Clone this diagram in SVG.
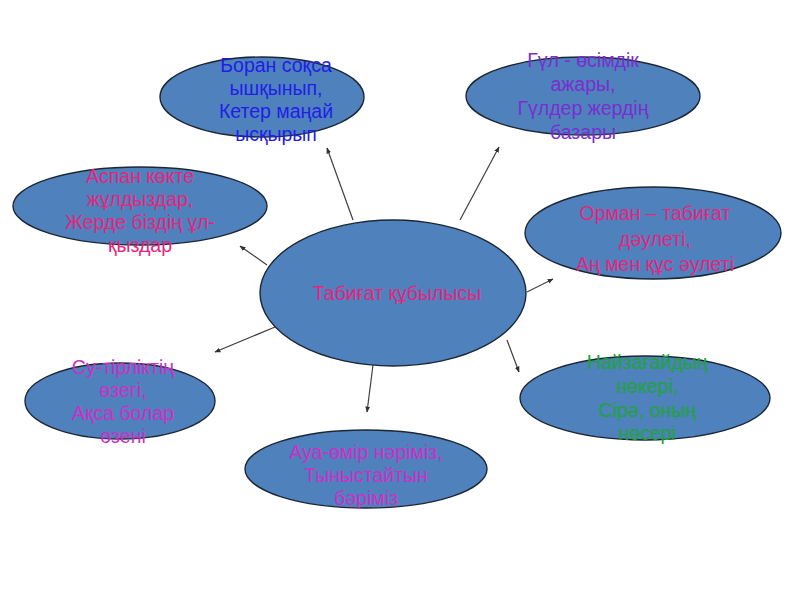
<svg xmlns="http://www.w3.org/2000/svg" width="800" height="600" viewBox="0 0 800 600">
<style>
.n{fill:#4f81bd;stroke:#1c2733;stroke-width:1.4}
text{font-family:"Liberation Sans",Arial,sans-serif;font-size:19.5px;text-anchor:middle;dominant-baseline:central}
.blue{fill:#1f1fe6}.purple{fill:#7a2ed0}.pink{fill:#e6257e}.mag{fill:#cc2fc6}.green{fill:#1fa33a}
.c{stroke:#404040;stroke-width:1.2;fill:none;marker-end:url(#a)}
</style>
<defs>
<marker id="a" viewBox="0 0 10 10" refX="9" refY="5" markerWidth="6" markerHeight="6" orient="auto" markerUnits="userSpaceOnUse">
<path d="M0,1 L10,5 L0,9 z" fill="#303030"/>
</marker>
</defs>
<rect width="800" height="600" fill="#fff"/>
<g id="connectors">
<line class="c" x1="353" y1="220" x2="327" y2="148"/>
<line class="c" x1="460" y1="220" x2="499" y2="147"/>
<line class="c" x1="267" y1="265" x2="240" y2="246"/>
<line class="c" x1="527" y1="292" x2="553" y2="279"/>
<line class="c" x1="275" y1="327" x2="215" y2="352"/>
<line class="c" x1="373" y1="365" x2="367" y2="412"/>
<line class="c" x1="507" y1="340" x2="519" y2="372"/>
</g>
<g id="center">
<ellipse class="n" cx="393" cy="293" rx="133" ry="73"/>
<text class="pink" x="397" y="293">Табиғат құбылысы</text>
</g>
<g id="boran">
<ellipse class="n" cx="262" cy="97" rx="102" ry="40"/>
<text class="blue" x="276" y="65">Боран соқса</text>
<text class="blue" x="276" y="88">ышқынып,</text>
<text class="blue" x="276" y="111">Кетер маңай</text>
<text class="blue" x="276" y="134">ысқырып</text>
</g>
<g id="gul">
<ellipse class="n" cx="583" cy="96" rx="117" ry="39"/>
<text class="purple" x="583" y="60">Гүл - өсімдік</text>
<text class="purple" x="583" y="84">ажары,</text>
<text class="purple" x="583" y="108">Гүлдер жердің</text>
<text class="purple" x="583" y="132">базары</text>
</g>
<g id="aspan">
<ellipse class="n" cx="140" cy="206" rx="127" ry="39"/>
<text class="pink" x="140" y="176">Аспан көкте</text>
<text class="pink" x="140" y="199">жұлдыздар,</text>
<text class="pink" x="140" y="222">Жерде біздің ұл-</text>
<text class="pink" x="140" y="245">қыздар</text>
</g>
<g id="orman">
<ellipse class="n" cx="653" cy="233" rx="128" ry="46"/>
<text class="pink" x="655" y="213">Орман – табиғат</text>
<text class="pink" x="655" y="239">дәулеті,</text>
<text class="pink" x="655" y="264">Аң мен құс әулеті</text>
</g>
<g id="su">
<ellipse class="n" cx="120" cy="401" rx="95" ry="38"/>
<text class="mag" x="123" y="367">Су-тірліктің</text>
<text class="mag" x="123" y="390">өзегі,</text>
<text class="mag" x="123" y="413">Ақса болар</text>
<text class="mag" x="123" y="436">өзені</text>
</g>
<g id="aua">
<ellipse class="n" cx="366" cy="469" rx="121" ry="39"/>
<text class="mag" x="366" y="452">Ауа-өмір нәріміз,</text>
<text class="mag" x="366" y="475">Тыныстайтын</text>
<text class="mag" x="366" y="498">бәріміз</text>
</g>
<g id="nayzagay">
<ellipse class="n" cx="645" cy="398" rx="125" ry="42"/>
<text class="green" x="647" y="362">Найзағайдың</text>
<text class="green" x="647" y="386">нөкері,</text>
<text class="green" x="647" y="410">Сірә, оның</text>
<text class="green" x="647" y="433">нөсері</text>
</g>
</svg>
